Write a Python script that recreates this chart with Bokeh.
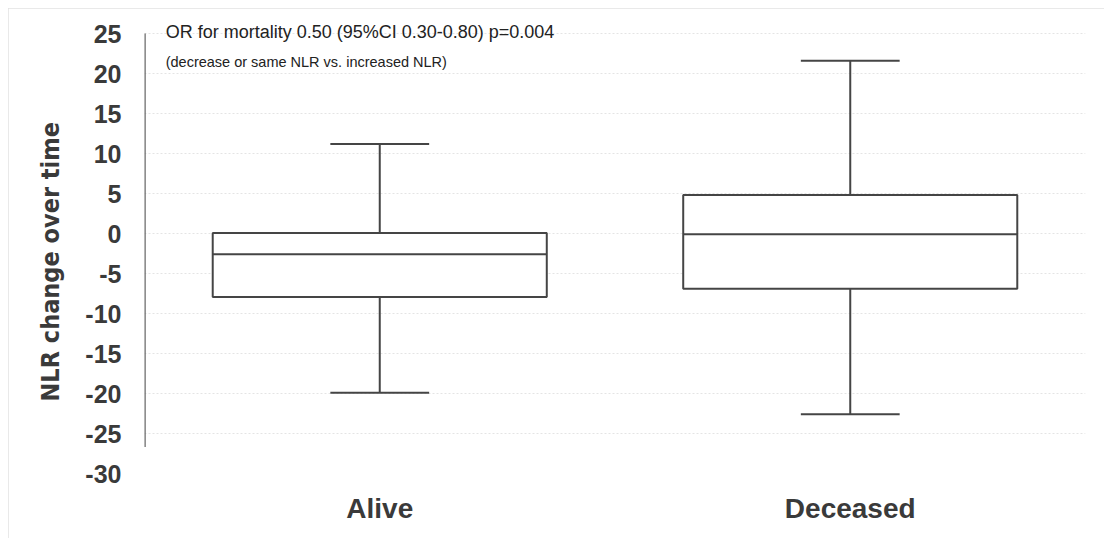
from bokeh.plotting import figure
from bokeh.models import (ColumnDataSource, Range1d, FixedTicker, Whisker, TeeHead,
                          Label, Title)
from bokeh.embed import file_html
from bokeh.resources import INLINE

# ---- data ----
categories = ["Alive", "Deceased"]
q1 = [-7.95, -6.9]
median = [-2.6, -0.1]
q3 = [0.05, 4.8]
lower = [-19.9, -22.6]
upper = [11.2, 21.6]
y_ticks = [-30, -25, -20, -15, -10, -5, 0, 5, 10, 15, 20, 25]
y_label = "NLR change over time"
note1 = "OR for mortality 0.50 (95%CI 0.30-0.80) p=0.004"
note2 = "(decrease or same NLR vs. increased NLR)"
axis_line_top = 25
axis_line_bottom = -26.7

xs = [i + 0.5 for i in range(len(categories))]
box_w = 0.71
cap_w = 0.21

src = ColumnDataSource(dict(
    x=xs, q1=q1, q3=q3, med=median, lo=lower, hi=upper,
    mx0=[x - box_w / 2 for x in xs], mx1=[x + box_w / 2 for x in xs],
))

LINE = "#454545"
TEXT = "#3a3a3a"
FONT = "Liberation Sans"

p = figure(width=1096, height=530, output_backend="svg", toolbar_location=None,
           x_range=Range1d(0, len(categories)), y_range=Range1d(-30, 27.5),
           min_border_left=136, min_border_right=19, min_border_top=5,
           min_border_bottom=65)
p.outline_line_color = None
p.styles = {"margin": "8px 0 0 8px", "outline": "2px solid #e2e2e2",
            "outline-offset": "-2px"}

# grid
p.xgrid.visible = False
p.ygrid.grid_line_color = "#e4e4e4"
p.ygrid.grid_line_dash = "2 2"
p.ygrid.grid_line_width = 1
p.ygrid.bounds = (-25, 25)

# y axis
p.yaxis.ticker = FixedTicker(ticks=y_ticks)
p.yaxis.major_label_overrides = {t: str(t) for t in y_ticks}
p.yaxis.axis_line_color = None
p.yaxis.major_tick_line_color = None
p.yaxis.major_tick_out = 0
p.yaxis.minor_tick_line_color = None
p.yaxis.major_label_text_font = FONT
p.yaxis.major_label_text_font_style = "bold"
p.yaxis.major_label_text_font_size = "25px"
p.yaxis.major_label_text_color = TEXT
p.yaxis.major_label_standoff = 23

# x axis
p.xaxis.ticker = FixedTicker(ticks=xs)
p.xaxis.major_label_overrides = {x: c for x, c in zip(xs, categories)}
p.xaxis.axis_line_color = None
p.xaxis.major_tick_line_color = None
p.xaxis.major_tick_out = 0
p.xaxis.minor_tick_line_color = None
p.xaxis.major_label_text_font = FONT
p.xaxis.major_label_text_font_style = "bold"
p.xaxis.major_label_text_font_size = "28px"
p.xaxis.major_label_text_color = TEXT
p.xaxis.major_label_standoff = 19

# visible y axis line
p.segment(x0=0, y0=axis_line_top, x1=0, y1=axis_line_bottom,
          line_color="#6a6a6a", line_width=2.5)

# boxes
p.vbar(x="x", width=box_w, top="q3", bottom="q1", source=src,
       fill_color="white", line_color=LINE, line_width=2)
p.segment(x0="mx0", y0="med", x1="mx1", y1="med", source=src,
          line_color=LINE, line_width=2)

# whiskers
cap_px = cap_w / len(categories) * 941
p.add_layout(Whisker(base="x", upper="hi", lower="q3", source=src,
                     upper_head=TeeHead(size=cap_px, line_color=LINE, line_width=2),
                     lower_head=None, line_color=LINE, line_width=2))
p.add_layout(Whisker(base="x", upper="q1", lower="lo", source=src,
                     lower_head=TeeHead(size=cap_px, line_color=LINE, line_width=2),
                     upper_head=None, line_color=LINE, line_width=2))

# notes
p.add_layout(Label(x=0.045, y=25.25, text=note1, text_font=FONT,
                   text_font_size="18px", text_color="#222222",
                   text_baseline="middle", text_align="left"))
p.add_layout(Label(x=0.045, y=21.4, text=note2, text_font=FONT,
                   text_font_size="14.5px", text_color="#222222",
                   text_baseline="middle", text_align="left"))

# y axis title
p.add_layout(Title(text=y_label, align="left", offset=72, standoff=35,
                   text_font="DejaVu Sans Condensed", text_font_style="bold",
                   text_font_size="25px", text_color=TEXT), "left")

open("out.html", "w").write(file_html(p, INLINE))
